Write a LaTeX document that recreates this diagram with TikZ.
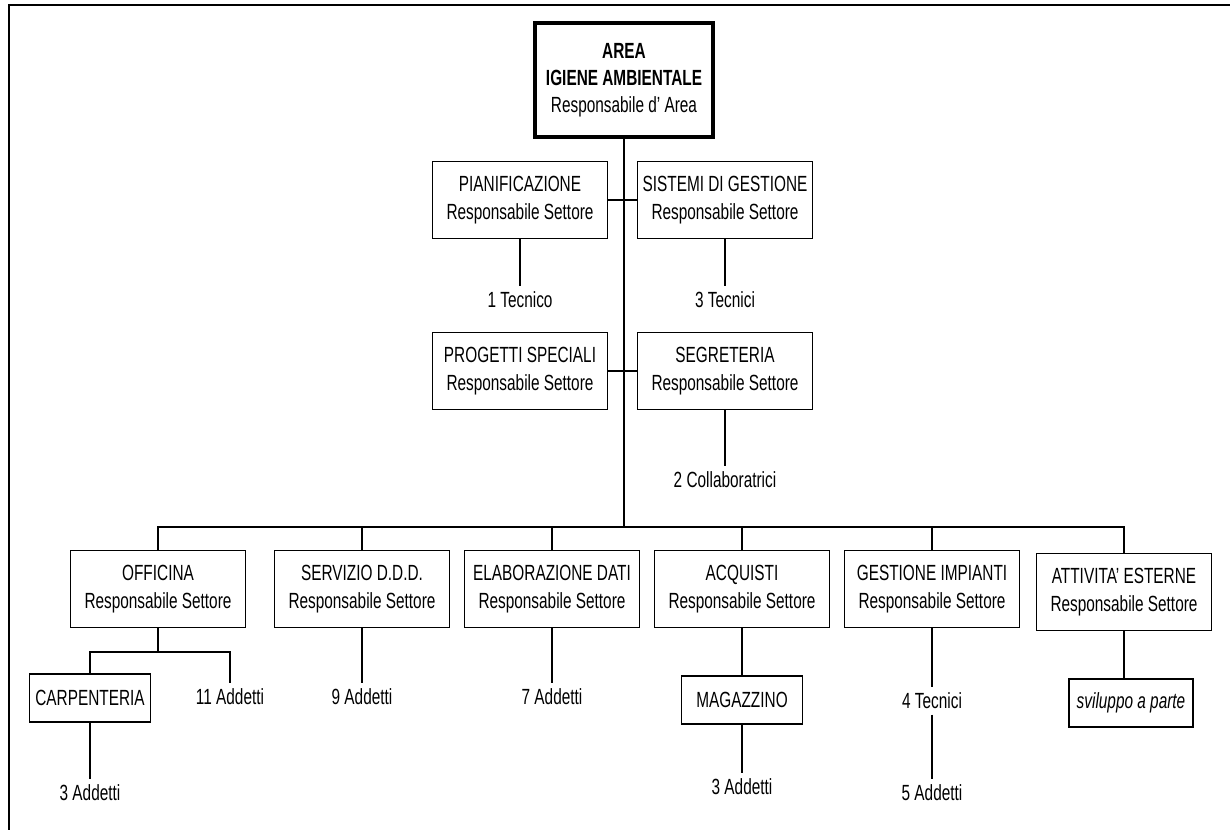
\documentclass[tikz,border=0pt]{standalone}
\usepackage{fontspec}
\setmainfont{Liberation Sans}[FakeStretch=0.70]
\usepackage{tikz}

\tikzset{
  orgtext/.style={font=\fontsize{12.5}{15.5}\selectfont, align=center},
  unit/.style={orgtext, draw, line width=0.9pt, minimum width=3.5cm, minimum height=1.54cm, inner sep=1pt},
  subunit/.style={orgtext, draw, line width=0.9pt, minimum width=2.42cm, minimum height=0.95cm, inner sep=1pt},
  staff/.style={orgtext, inner sep=3pt},
  link/.style={line width=0.9pt}
}

\begin{document}
\begin{tikzpicture}[x=0.02cm, y=-0.02cm]
    \useasboundingbox (0,0) rectangle (1230,830);
    % Page frame
    \draw[line width=1.3pt] (9,830) -- (9,5) -- (1230,5);
    % Head of area
    \node[unit, line width=2pt, minimum width=3.56cm, minimum height=2.28cm] (area) at (624,80)
      {\textbf{AREA}\\\textbf{IGIENE AMBIENTALE}\\Responsabile d' Area};
    % Staff units
    \node[unit] (pian) at (520,200) {PIANIFICAZIONE\\Responsabile Settore};
    \node[unit] (sist) at (725,200) {SISTEMI DI GESTIONE\\Responsabile Settore};
    \node[unit] (prog) at (520,371) {PROGETTI SPECIALI\\Responsabile Settore};
    \node[unit] (segr) at (725,371) {SEGRETERIA\\Responsabile Settore};
    \node[staff] (tec1) at (520,300) {1 Tecnico};
    \node[staff] (tec3) at (725,300) {3 Tecnici};
    \node[staff] (coll) at (725,480) {2 Collaboratrici};
    % Line units
    \node[unit] (offi) at (158,589) {OFFICINA\\Responsabile Settore};
    \node[unit] (serv) at (362,589) {SERVIZIO D.D.D.\\Responsabile Settore};
    \node[unit] (elab) at (552,589) {ELABORAZIONE DATI\\Responsabile Settore};
    \node[unit] (acqu) at (742,589) {ACQUISTI\\Responsabile Settore};
    \node[unit] (gest) at (932,589) {GESTIONE IMPIANTI\\Responsabile Settore};
    \node[unit] (attv) at (1124,592) {ATTIVITA' ESTERNE\\Responsabile Settore};
    % Sub units and people
    \node[subunit] (carp) at (90,698) {CARPENTERIA};
    \node[subunit] (maga) at (742,700) {MAGAZZINO};
    \node[subunit, minimum width=2.48cm] (svil) at (1131,703) {\itshape sviluppo a parte};
    \node[staff] (add11) at (230,697) {11 Addetti};
    \node[staff] (add3a) at (90,793) {3 Addetti};
    \node[staff] (add9) at (362,697) {9 Addetti};
    \node[staff] (add7) at (552,697) {7 Addetti};
    \node[staff] (add3b) at (742,787) {3 Addetti};
    \node[staff] (tec4) at (932,701) {4 Tecnici};
    \node[staff] (add5) at (932,793) {5 Addetti};
    % Connectors
    \coordinate (bus) at (624,527);
    \coordinate (offsplit) at (158,652);
    \draw[link] (area.south) -- (bus);
    \draw[link] (pian.east) -- (sist.west);
    \draw[link] (prog.east) -- (segr.west);
    \draw[link] (pian.south) -- (tec1.north);
    \draw[link] (sist.south) -- (tec3.north);
    \draw[link] (segr.south) -- (coll.north);
    \foreach \u in {offi,serv,elab,acqu,gest,attv}
      \draw[link] (bus) -| (\u.north);
    \draw[link] (offi.south) -- (offsplit);
    \draw[link] (offsplit) -| (carp.north);
    \draw[link] (offsplit) -| (add11.north);
    \draw[link] (carp.south) -- (add3a.north);
    \draw[link] (serv.south) -- (add9.north);
    \draw[link] (elab.south) -- (add7.north);
    \draw[link] (acqu.south) -- (maga.north);
    \draw[link] (maga.south) -- (add3b.north);
    \draw[link] (gest.south) -- (tec4.north);
    \draw[link] (tec4.south) -- (add5.north);
    \draw[link] (attv.south) -- (attv.south |- svil.north);
\end{tikzpicture}
\end{document}
